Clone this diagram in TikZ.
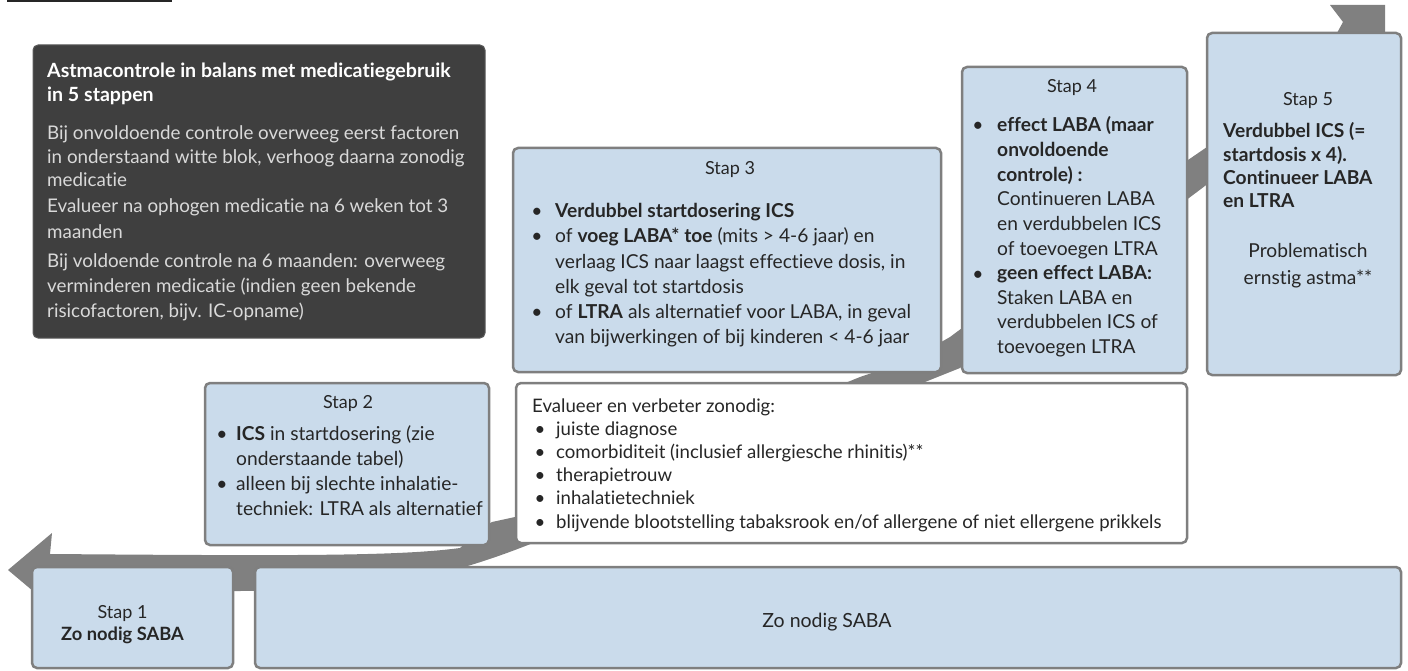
\documentclass[tikz,border=0pt]{standalone}
\usepackage{fontspec}
\setmainfont{Lato}[Ligatures={NoCommon}]
\definecolor{boxblue}{HTML}{CADBEB}
\definecolor{boxline}{HTML}{7F7F7F}
\definecolor{bandc}{HTML}{808080}
\definecolor{darkfill}{HTML}{3F3F3F}
\definecolor{darkline}{HTML}{5A5A5A}
\definecolor{txtc}{HTML}{262626}
\definecolor{lighttxt}{HTML}{D9D9D9}
\begin{document}
\begin{tikzpicture}[x=1pt,y=-1pt,
  stepbox/.style={draw=boxline, fill=boxblue, line width=2.5pt, rounded corners=5pt, anchor=north west, inner sep=0pt, outer sep=0pt},
  evalbox/.style={stepbox, fill=white},
  darkbox/.style={draw=darkline, fill=darkfill, line width=1pt, rounded corners=5pt, anchor=north west, inner sep=0pt, outer sep=0pt},
  txt/.style={font=\fontsize{19.2}{22}\selectfont, text=txtc, inner sep=0pt, anchor=base west},
  bul/.style={txt, anchor=base},
  btxt/.style={txt, font=\fontsize{19.2}{22}\selectfont\bfseries},
  htxt/.style={txt, anchor=base, font=\fontsize{18}{21}\selectfont},
  ctxt/.style={txt, anchor=base},
  wtxt/.style={txt, font=\fontsize{18.6}{22}\selectfont},
  ltxt/.style={txt, text=lighttxt, font=\fontsize{18.8}{22}\selectfont},
  ttxt/.style={txt, text=white, font=\fontsize{19.6}{22}\selectfont\bfseries},
]
\useasboundingbox (0,0) rectangle (1408,671);
% top line
\draw[line width=1.5pt, txtc] (7,0.8) -- (172,0.8);
% band arrow
\fill[bandc] (52,533) -- (8,570) -- (52,607) -- (50,592) -- (240,591)
  .. controls (380,590) and (440,580) .. (533,543) -- (925,382) -- (960,368)
  -- (1197,192) -- (1390,45) -- (1385,33) -- (1385,5) -- (1330,5) -- (1343,22)
  -- (1337,33) -- (1207,147) -- (1188,160) -- (950,337)
  .. controls (910,360) .. (860,377) -- (515,517) -- (492,522)
  .. controls (478,530) and (470,540) .. (460,548)
  .. controls (400,556) and (300,556) .. (50,554) -- cycle;
% dark box
\node[darkbox, minimum width=452pt, minimum height=293pt] (dark) at (33,45) {};
\node[ttxt] (t1) at (47,78) {Astmacontrole in balans met medicatiegebruik};
\node[ttxt] (t2) at (47,102) {in 5 stappen};
\foreach \t [count=\i from 0] in {{Bij onvoldoende controle overweeg eerst factoren},{in onderstaand witte blok, verhoog daarna zonodig},{medicatie}}
  \node[ltxt] (pa\i) at (47,140+23.5*\i) {\t};
\foreach \t [count=\i from 0] in {{Evalueer na ophogen medicatie na 6 weken tot 3},{maanden}}
  \node[ltxt] (pb\i) at (47,213+26*\i) {\t};
\foreach \t [count=\i from 0] in {{Bij voldoende controle na 6 maanden: overweeg},{verminderen medicatie (indien geen bekende},{risicofactoren, bijv. IC-opname)}}
  \node[ltxt] (pc\i) at (47,267+25*\i) {\t};
% stap 3
\node[stepbox, minimum width=428pt, minimum height=224pt] (s3) at (513,148) {};
\node[htxt] (s3h) at (730,175) {Stap 3};
\foreach \yy [count=\i] in {218,243,318}
  \node[bul] (s3b\i) at (537,\yy) {•};
\foreach \t [count=\i from 0] in {{\textbf{Verdubbel startdosering ICS}},{of \textbf{voeg LABA* toe} (mits > 4-6 jaar) en},{verlaag ICS naar laagst effectieve dosis, in},{elk geval tot startdosis},{of \textbf{LTRA} als alternatief voor LABA, in geval},{van bijwerkingen of bij kinderen < 4-6 jaar}}
  \node[txt] (s3l\i) at (555,218+25*\i) {\t};
% stap 4
\node[stepbox, minimum width=225pt, minimum height=306pt] (s4) at (962,67) {};
\node[htxt] (s4h) at (1072,93) {Stap 4};
\foreach \yy [count=\i] in {132,280}
  \node[bul] (s4b\i) at (978,\yy) {•};
\foreach \t [count=\i from 0] in {{\textbf{effect LABA (maar}},{\textbf{onvoldoende}},{\textbf{controle) :}},{Continueren LABA},{en verdubbelen ICS},{of toevoegen LTRA},{\textbf{geen effect LABA:}},{Staken LABA en},{verdubbelen ICS of},{toevoegen LTRA}}
  \node[txt] (s4l\i) at (997,132+24.6*\i) {\t};
% stap 5
\node[stepbox, minimum width=194pt, minimum height=342pt] (s5) at (1207,33) {};
\node[htxt] (s5h) at (1308,106) {Stap 5};
\foreach \t [count=\i from 0] in {{Verdubbel ICS (=},{startdosis x 4).},{Continueer LABA},{en LTRA}}
  \node[btxt] (s5l\i) at (1223,138+23.3*\i) {\t};
\node[ctxt] (s5p1) at (1308,258) {Problematisch};
\node[ctxt] (s5p2) at (1308,284) {ernstig astma**};
% stap 2
\node[stepbox, minimum width=284pt, minimum height=162pt] (s2) at (205,383) {};
\node[htxt] (s2h) at (348,408) {Stap 2};
\foreach \yy [count=\i] in {440,490}
  \node[bul] (s2b\i) at (222,\yy) {•};
\foreach \t [count=\i from 0] in {{\textbf{ICS} in startdosering (zie},{onderstaande tabel)},{alleen bij slechte inhalatie-},{techniek: LTRA als alternatief}}
  \node[txt] (s2l\i) at (236,440+25*\i) {\t};
% evaluation box
\node[evalbox, minimum width=671pt, minimum height=160pt] (ev) at (516,383) {};
\node[wtxt] (evh) at (532,412) {Evalueer en verbeter zonodig:};
\foreach \t [count=\i from 0] in {{juiste diagnose},{comorbiditeit (inclusief allergiesche rhinitis)**},{therapietrouw},{inhalatietechniek},{blijvende blootstelling tabaksrook en/of allergene of niet ellergene prikkels}}
  {\node[wtxt, anchor=base] (evb\i) at (540,435+23.3*\i) {•};
   \node[wtxt] (evl\i) at (556,435+23.3*\i) {\t};}
% stap 1 and SABA
\node[stepbox, minimum width=201pt, minimum height=101pt] (s1) at (32,567) {};
\node[htxt] (s1h) at (122.5,618) {Stap 1};
\node[htxt, font=\fontsize{18.3}{21}\selectfont\bfseries] (s1l) at (122.5,640) {Zo nodig SABA};
\node[stepbox, minimum width=1146pt, minimum height=101pt] (saba) at (255,567) {};
\node[htxt, font=\fontsize{19.5}{22}\selectfont] (sabal) at (827,627) {Zo nodig SABA};
\end{tikzpicture}
\end{document}
